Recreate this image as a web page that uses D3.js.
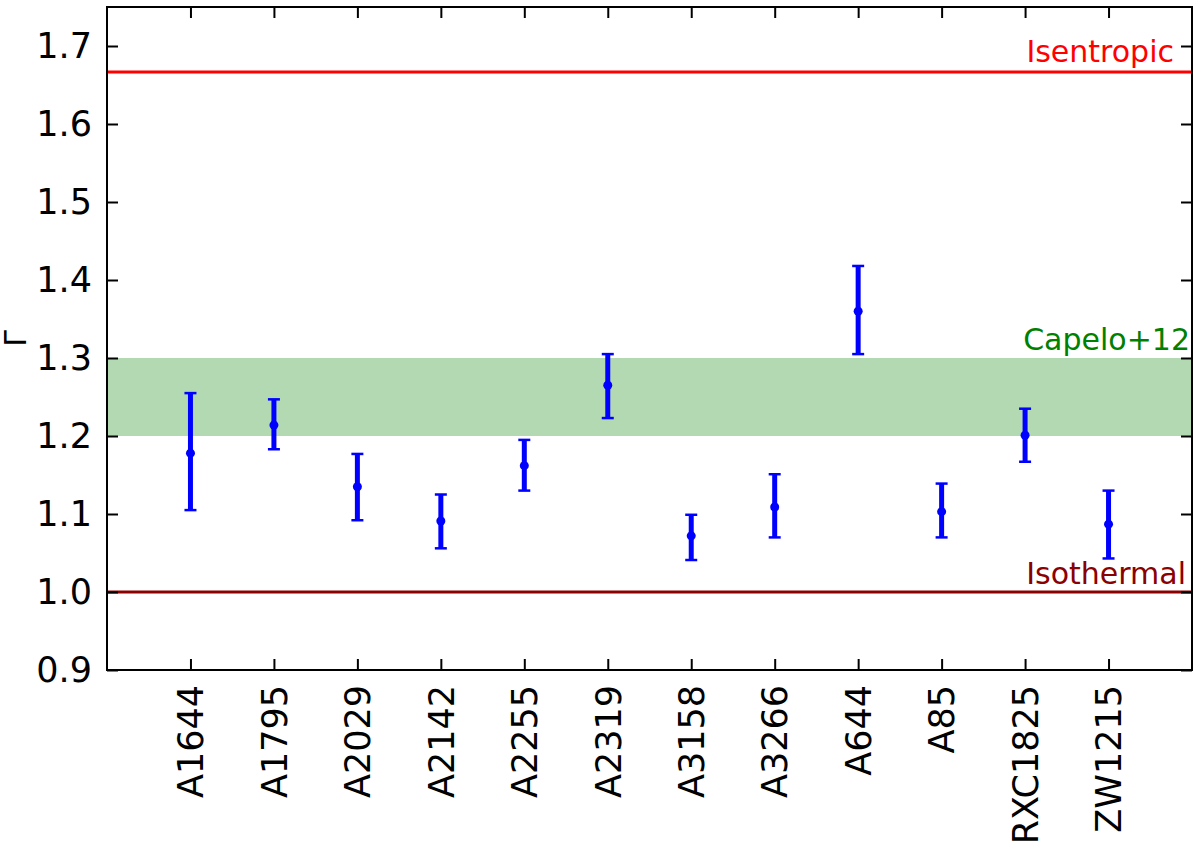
<!DOCTYPE html>
<html>
<head>
<meta charset="utf-8">
<script src="https://cdn.jsdelivr.net/npm/d3@7"></script>
<style>
  body { margin: 0; background: #fff; }
  svg { display: block; font-family: "DejaVu Sans", sans-serif; }
</style>
</head>
<body>
<svg id="chart" width="1200" height="853"></svg>
<script>
const clusters = ["A1644","A1795","A2029","A2142","A2255","A2319","A3158","A3266","A644","A85","RXC1825","ZW1215"];
const gammaValues = [1.178, 1.214, 1.135, 1.091, 1.162, 1.265, 1.072, 1.109, 1.360, 1.103, 1.201, 1.087];
const gammaUpper  = [1.255, 1.247, 1.177, 1.125, 1.195, 1.305, 1.099, 1.151, 1.418, 1.139, 1.235, 1.130];
const gammaLower  = [1.105, 1.183, 1.092, 1.056, 1.130, 1.223, 1.041, 1.070, 1.305, 1.070, 1.167, 1.043];
const yTicks = [0.9, 1.0, 1.1, 1.2, 1.3, 1.4, 1.5, 1.6, 1.7];
const isentropic = 5/3;
const isothermal = 1.0;
const capeloBand = [1.2, 1.3];

(function () {
const svg = d3.select("#chart");
const L = 107, R = 1192, T = 7, B = 670;

const x = d3.scaleLinear().domain([-1, clusters.length]).range([L, R]);
const y = d3.scaleLinear().domain([0.9, 1.75]).range([B, T]);

// band
svg.append("rect")
  .attr("x", L).attr("width", R - L)
  .attr("y", y(capeloBand[1])).attr("height", y(capeloBand[0]) - y(capeloBand[1]))
  .attr("fill", "green").attr("fill-opacity", 0.3);

// reference lines
svg.append("line").attr("x1", L).attr("x2", R)
  .attr("y1", y(isentropic)).attr("y2", y(isentropic))
  .attr("stroke", "#ff0000").attr("stroke-width", 3);
svg.append("line").attr("x1", L).attr("x2", R)
  .attr("y1", y(isothermal)).attr("y2", y(isothermal))
  .attr("stroke", "#8b0000").attr("stroke-width", 3);

// annotations
const annFont = 30;
svg.append("text").attr("x", 1174).attr("y", 62).attr("text-anchor", "end")
  .attr("font-size", annFont).attr("fill", "#ff0000").text("Isentropic");
svg.append("text").attr("x", 1190).attr("y", 350).attr("text-anchor", "end")
  .attr("font-size", annFont).attr("fill", "#008000").text("Capelo+12");
svg.append("text").attr("x", 1186).attr("y", 584).attr("text-anchor", "end")
  .attr("font-size", annFont).attr("fill", "#8b0000").text("Isothermal");

// error bars
const g = svg.append("g");
clusters.forEach((c, i) => {
  const cx = x(i);
  g.append("line").attr("x1", cx).attr("x2", cx)
    .attr("y1", y(gammaUpper[i])).attr("y2", y(gammaLower[i]))
    .attr("stroke", "#0000ff").attr("stroke-width", 5);
  [gammaUpper[i], gammaLower[i]].forEach(v => {
    g.append("line").attr("x1", cx - 6).attr("x2", cx + 6)
      .attr("y1", y(v)).attr("y2", y(v))
      .attr("stroke", "#0000ff").attr("stroke-width", 2.5);
  });
  g.append("circle").attr("cx", cx).attr("cy", y(gammaValues[i])).attr("r", 4.5)
    .attr("fill", "#0000ff");
});

// axes
const tickLen = 11;
const fontSize = 35;
const ax = svg.append("g");

const axLeft = ax.append("g").attr("transform", `translate(${L},0)`)
  .call(d3.axisLeft(y).tickValues(yTicks).tickFormat(d3.format(".1f")).tickSize(-tickLen).tickPadding(15));
const axRight = ax.append("g").attr("transform", `translate(${R},0)`)
  .call(d3.axisRight(y).tickValues(yTicks).tickFormat("").tickSize(-tickLen));
const axBottom = ax.append("g").attr("transform", `translate(0,${B})`)
  .call(d3.axisBottom(x).tickValues(d3.range(clusters.length)).tickFormat(i => clusters[i]).tickSize(-tickLen));
const axTop = ax.append("g").attr("transform", `translate(0,${T})`)
  .call(d3.axisTop(x).tickValues(d3.range(clusters.length)).tickFormat("").tickSize(-tickLen));

[axLeft, axRight, axBottom, axTop].forEach(a => {
  a.select(".domain").remove();
  a.selectAll(".tick line").attr("stroke", "#000").attr("stroke-width", 2);
  a.selectAll("text").attr("font-size", fontSize).attr("fill", "#000").attr("font-family", "DejaVu Sans");
});

axBottom.selectAll(".tick text")
  .attr("transform", "rotate(-90)")
  .attr("text-anchor", "end")
  .attr("x", -15).attr("y", 0).attr("dy", "0.35em");

// frame
svg.append("rect").attr("x", L).attr("y", T).attr("width", R - L).attr("height", B - T)
  .attr("fill", "none").attr("stroke", "#000").attr("stroke-width", 2);

// y label
svg.append("text").attr("transform", `translate(26,${(T + B) / 2}) rotate(-90)`)
  .attr("text-anchor", "middle").attr("font-size", 30).attr("fill", "#000").text("Γ");
})();
</script>
</body>
</html>
